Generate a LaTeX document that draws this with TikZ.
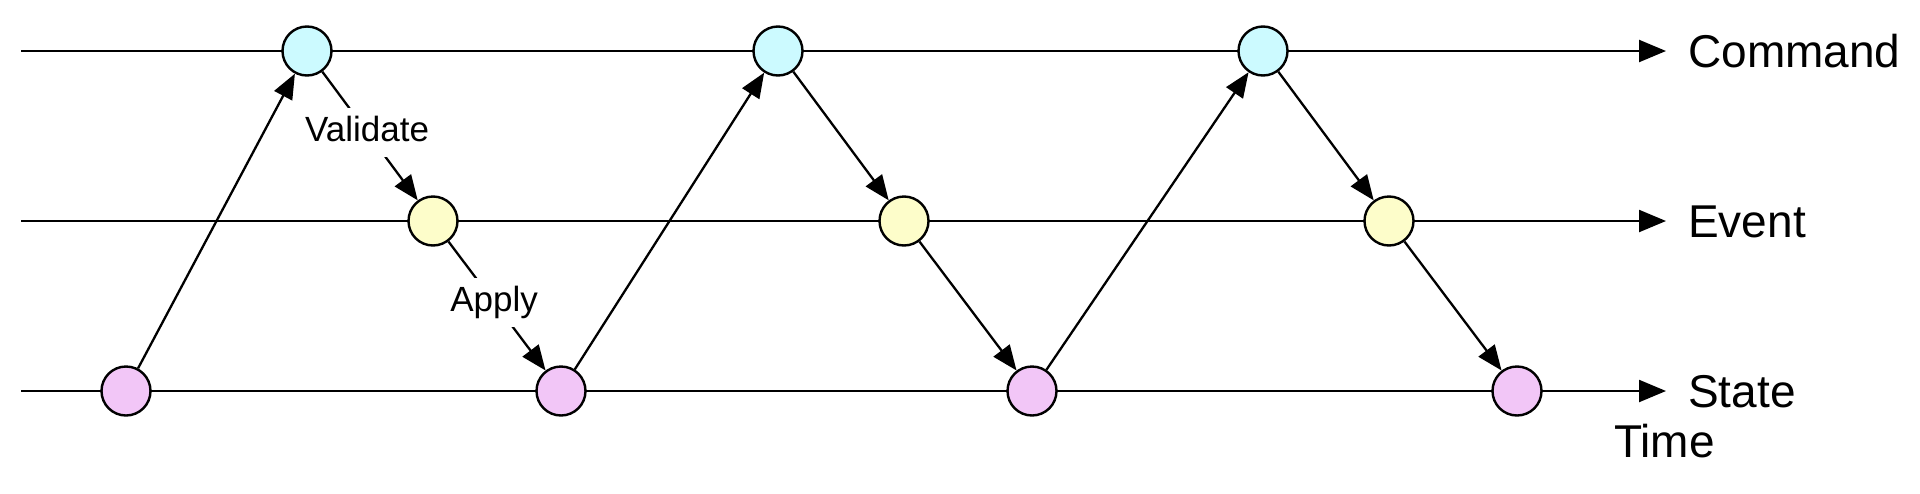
\documentclass[tikz,border=0pt]{standalone}
\usepackage{fontspec}
\setmainfont{Liberation Sans}
\usetikzlibrary{arrows.meta}
\definecolor{cmdfill}{RGB}{204,250,255}
\definecolor{evtfill}{RGB}{253,253,202}
\definecolor{stfill}{RGB}{242,198,247}
\begin{document}
\begin{tikzpicture}[x=1pt,y=-1pt,
  dot/.style={circle,draw,line width=2.4pt,minimum size=49pt,inner sep=0pt},
  cmd/.style={dot,fill=cmdfill},
  evt/.style={dot,fill=evtfill},
  st/.style={dot,fill=stfill},
  axis/.style={line width=2.3pt,-{Triangle[length=27pt,width=22pt]}},
  flow/.style={line width=2.3pt,-{Triangle[length=25pt,width=20pt]}},
  big/.style={font=\fontsize{46}{55}\selectfont,inner sep=0pt,anchor=base west},
  small/.style={font=\fontsize{35}{42}\selectfont,fill=white,text height=26pt,text depth=8pt,inner xsep=4pt,inner ysep=7.5pt}]
\useasboundingbox (0,0) rectangle (1920,493);
% axes
\coordinate (L1) at (21,51);
\coordinate (R1) at (1666,51);
\coordinate (L2) at (21,221);
\coordinate (R2) at (1666,221);
\coordinate (L3) at (21,391);
\coordinate (R3) at (1666,391);
\draw[axis] (L1) -- (R1);
\draw[axis] (L2) -- (R2);
\draw[axis] (L3) -- (R3);
\node[big] (cmdlbl) at (1688,67) {Command};
\node[big] (evtlbl) at (1688,237) {Event};
\node[big] (stlbl) at (1688,407) {State};
\node[big] (timelbl) at (1614,457) {Time};
% nodes
\node[cmd] (c1) at (307,51) {};
\node[cmd] (c2) at (778,51) {};
\node[cmd] (c3) at (1263,51) {};
\node[evt] (e1) at (433,221) {};
\node[evt] (e2) at (904,221) {};
\node[evt] (e3) at (1389,221) {};
\node[st] (s1) at (126,391) {};
\node[st] (s2) at (561,391) {};
\node[st] (s3) at (1032,391) {};
\node[st] (s4) at (1517,391) {};
% connectors
\draw[flow] (s1) -- (c1);
\draw[flow] (c1) -- node[small,pos=0.47] (val) {Validate} (e1);
\draw[flow] (e1) -- node[small,pos=0.47] (app) {Apply} (s2);
\draw[flow] (s2) -- (c2);
\draw[flow] (c2) -- (e2);
\draw[flow] (e2) -- (s3);
\draw[flow] (s3) -- (c3);
\draw[flow] (c3) -- (e3);
\draw[flow] (e3) -- (s4);
\end{tikzpicture}
\end{document}
